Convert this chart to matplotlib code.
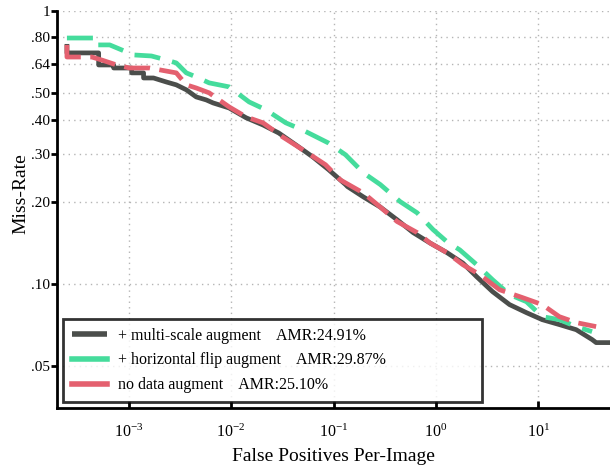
import matplotlib
matplotlib.use('Agg')
import matplotlib.pyplot as plt

plt.rcParams['font.family'] = ['Liberation Serif', 'DejaVu Serif']
plt.rcParams['mathtext.fontset'] = 'custom'
plt.rcParams['mathtext.rm'] = 'Liberation Serif'
plt.rcParams['mathtext.it'] = 'Liberation Serif'

# fppi / miss-rate
ms_fppi = [2.5e-4, 2.5e-4, 5.1e-4, 5.1e-4, 7.15e-4, 7.15e-4, 1.07e-3, 1.07e-3, 1.40e-3, 1.40e-3,
           1.75e-3, 2.34e-3, 2.92e-3, 3.66e-3, 4.57e-3, 5.72e-3, 6.69e-3, 9.57e-3, 1.40e-2, 2.05e-2,
           2.92e-2, 4.28e-2, 6.25e-2, 8.94e-2, 0.131, 0.137, 0.196, 0.286, 0.418, 0.598,
           0.875, 1.28, 1.83, 2.5, 3.57, 5.23, 7.64, 10.9, 16.0, 23.4, 33.4, 36.6, 50]
ms_mr = [0.757, 0.702, 0.702, 0.634, 0.634, 0.618, 0.618, 0.593, 0.593, 0.568,
         0.568, 0.549, 0.536, 0.514, 0.484, 0.472, 0.460, 0.441, 0.406, 0.382,
         0.357, 0.323, 0.292, 0.262, 0.231, 0.227, 0.208, 0.191, 0.1715, 0.154,
         0.141, 0.130, 0.119, 0.106, 0.0935, 0.0838, 0.0783, 0.0738, 0.0708, 0.0678, 0.0624, 0.0608, 0.0608]

hf_fppi = [2.5e-4, 4.89e-4, 4.89e-4, 6.54e-4, 8.55e-4, 1.12e-3, 1.67e-3, 2.34e-3, 2.92e-3, 3.66e-3,
           4.57e-3, 6.11e-3, 9.57e-3, 1.50e-2, 2.19e-2, 3.42e-2, 5.0e-2, 8.94e-2, 0.131, 0.196,
           0.286, 0.447, 0.654, 0.935, 1.28, 1.71, 2.50, 3.57, 5.23, 7.64,
           10.9, 16.0, 23.4, 33.4]
hf_mr = [0.796, 0.796, 0.751, 0.751, 0.720, 0.690, 0.684, 0.661, 0.645, 0.593,
         0.573, 0.545, 0.527, 0.464, 0.434, 0.389, 0.366, 0.328, 0.297, 0.255,
         0.231, 0.200, 0.182, 0.158, 0.1425, 0.133, 0.1174, 0.1034, 0.0912, 0.0859,
         0.0757, 0.0738, 0.0696, 0.0667]

na_fppi = [2.5e-4, 2.5e-4, 4.37e-4, 5.47e-4, 7.64e-4, 1.02e-3, 1.60e-3, 2.92e-3, 3.66e-3, 4.57e-3,
           6.11e-3, 9.57e-3, 1.40e-2, 2.05e-2, 3.20e-2, 5.0e-2, 8.36e-2, 0.117, 0.196, 0.286,
           0.418, 0.654, 0.875, 1.28, 1.83, 2.67, 4.18, 7.0, 10.9, 16.0,
           23.4, 36.6]
na_mr = [0.751, 0.678, 0.678, 0.661, 0.634, 0.618, 0.618, 0.593, 0.536, 0.522,
         0.501, 0.445, 0.409, 0.389, 0.345, 0.310, 0.273, 0.240, 0.215, 0.191,
         0.169, 0.154, 0.141, 0.130, 0.1174, 0.108, 0.0950, 0.0889, 0.0838, 0.0757,
         0.0720, 0.0696]

labels = ['+ multi-scale augment    AMR:24.91%',
          '+ horizontal flip augment    AMR:29.87%',
          'no data augment    AMR:25.10%']
yticks = [0.05, 0.10, 0.20, 0.30, 0.40, 0.50, 0.64, 0.80, 1]
ytick_labels = ['.05', '.10', '.20', '.30', '.40', '.50', '.64', '.80', '1']
xticks = [1e-3, 1e-2, 1e-1, 1, 10]
xtick_labels = [r'$10^{-3}$', r'$10^{-2}$', r'$10^{-1}$', r'$10^{0}$', r'$10^{1}$']

fig = plt.figure(figsize=(6.1, 4.67), dpi=100)
ax = fig.add_axes([57/610, 59/467, 553/610, 397/467])

lw = 3.4
ax.plot(ms_fppi, ms_mr, color='#4b4e4b', lw=lw, label=labels[0], solid_capstyle='butt')
ax.plot(hf_fppi, hf_mr, color='#45dc9c', lw=lw, label=labels[1], dashes=(5.5, 2.6))
ax.plot(na_fppi, na_mr, color='#e4606f', lw=lw, label=labels[2], dashes=(5.5, 2.0))

ax.set_xscale('log')
ax.set_yscale('log')
ax.set_xlim(2e-4, 50)
ax.set_ylim(0.035, 1)
ax.set_yticks(yticks)
ax.set_yticklabels(ytick_labels)
ax.yaxis.set_minor_locator(matplotlib.ticker.NullLocator())
ax.xaxis.set_minor_locator(matplotlib.ticker.NullLocator())
ax.set_xticks(xticks)
ax.set_xticklabels(xtick_labels)

ax.grid(True, color='#b5b5b5', linestyle=(0, (1, 3)), lw=1.0)
for s in ['top', 'right']:
    ax.spines[s].set_visible(False)
for s in ['left', 'bottom']:
    ax.spines[s].set_linewidth(2)
ax.tick_params(axis='y', direction='out', length=4, width=2, labelsize=11, pad=1)
ax.tick_params(axis='x', direction='in', length=5, width=2, labelsize=11.5, pad=11)

ax.set_xlabel('False Positives Per-Image', fontsize=14, labelpad=5)
ax.set_ylabel('Miss-Rate', fontsize=14, labelpad=2)
ax.yaxis.set_label_coords(-0.05, 0.54)

leg = ax.legend(loc='lower left', bbox_to_anchor=(0.011, 0.015, 0.758, 0.194), mode='expand',
                fancybox=False, edgecolor='black', fontsize=11.5, handlelength=2.2,
                borderpad=0.55, labelspacing=0.55, handletextpad=0.7, borderaxespad=0)
leg.get_frame().set_linewidth(2)
for line in leg.get_lines():
    line.set_linestyle('-')
    line.set_linewidth(4)

fig.savefig('out.png', dpi=100)
